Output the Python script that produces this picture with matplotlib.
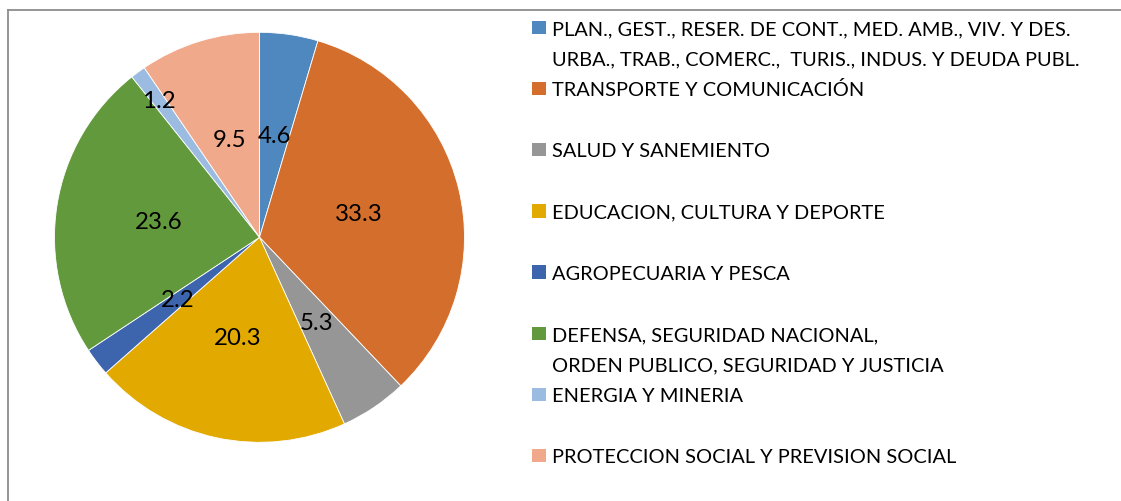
import numpy as np
import matplotlib.pyplot as plt
from matplotlib.lines import Line2D
from matplotlib.patches import Rectangle

plt.rcParams['font.family'] = ['Lato', 'DejaVu Sans']

categorias = [
    'PLAN., GEST., RESER. DE CONT., MED. AMB., VIV. Y DES.\nURBA., TRAB., COMERC.,  TURIS., INDUS. Y DEUDA PUBL.',
    'TRANSPORTE Y COMUNICACIÓN',
    'SALUD Y SANEMIENTO',
    'EDUCACION, CULTURA Y DEPORTE',
    'AGROPECUARIA Y PESCA',
    'DEFENSA, SEGURIDAD NACIONAL,\nORDEN PUBLICO, SEGURIDAD Y JUSTICIA',
    'ENERGIA Y MINERIA',
    'PROTECCION SOCIAL Y PREVISION SOCIAL',
]
valores = [4.6, 33.3, 5.3, 20.3, 2.2, 23.6, 1.2, 9.5]
colores = ['#4f88be', '#d36e2c', '#969696', '#e2aa00',
           '#3d65ae', '#63993d', '#9bbce0', '#f0a98a']

W, H = 1121, 502
fig = plt.figure(figsize=(W / 100, H / 100), dpi=100)

# pie: centre (259.5, 238.3) px, radius 205 px
cx, cy, r = 259.5, 238.3, 205
ax = fig.add_axes([(cx - r) / W, (H - cy - r) / H, 2 * r / W, 2 * r / H])
wedges, _, autotexts = ax.pie(valores, colors=colores, startangle=90, counterclock=False,
                              autopct='%.1f', pctdistance=0.5,
                              wedgeprops=dict(edgecolor='white', linewidth=0.6),
                              textprops=dict(fontsize=17.3, color='black'))
ax.set_xlim(-1, 1)
ax.set_ylim(-1, 1)
ax.set_aspect('equal')
ax.axis('off')
# the small 1.2 slice has its label pushed outwards
t = autotexts[6]
t.set_position(np.array(t.get_position()) * 0.83 / 0.5)

# legend, drawn by hand (two line slots per entry)
def fx(x):
    return x / W

def fy(y):
    return 1 - y / H

base0, paso, linea = 35.0, 61.2, 30.7
for i, (lab, col) in enumerate(zip(categorias, colores)):
    b = base0 + i * paso
    fig.patches.append(Rectangle((fx(532), fy(b)), 14 / W, 13.5 / H, facecolor=col,
                                 edgecolor='none', transform=fig.transFigure, figure=fig))
    for j, parte in enumerate(lab.split('\n')):
        fig.text(fx(552), fy(b + j * linea), parte, fontsize=14.4, va='baseline', ha='left')

# chart area border (top and left edges visible)
fig.add_artist(Line2D([fx(7.5), 1.0], [fy(10.7), fy(10.7)], color='#8c8c8c', lw=1.3))
fig.add_artist(Line2D([fx(7.5), fx(7.5)], [fy(10.7), 0.0], color='#8c8c8c', lw=1.3))

fig.savefig('out.png', dpi=100)
